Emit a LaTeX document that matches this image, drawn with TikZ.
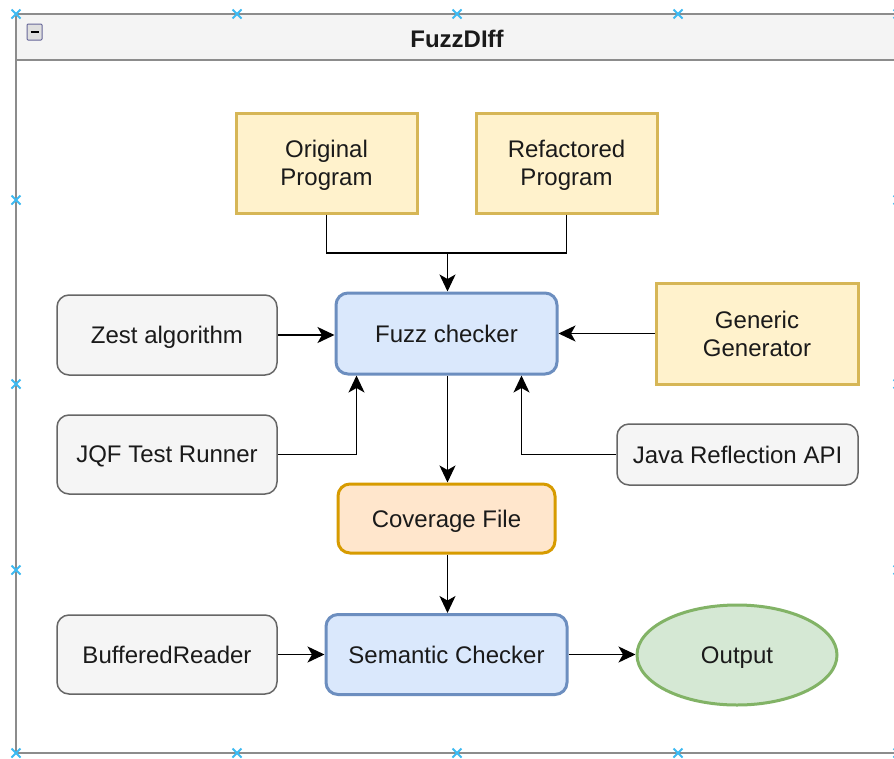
\documentclass[tikz,border=0pt]{standalone}
\usepackage{fontspec}
\setmainfont{Liberation Sans}
\usetikzlibrary{arrows.meta,shapes.geometric}

\definecolor{yelfill}{HTML}{FFF2CC}
\definecolor{yeldraw}{HTML}{D6B656}
\definecolor{blufill}{HTML}{DAE8FC}
\definecolor{bludraw}{HTML}{6C8EBF}
\definecolor{grafill}{HTML}{F5F5F5}
\definecolor{gradraw}{HTML}{666666}
\definecolor{orafill}{HTML}{FFE6CC}
\definecolor{oradraw}{HTML}{D79B00}
\definecolor{grnfill}{HTML}{D5E8D4}
\definecolor{grndraw}{HTML}{82B366}
\definecolor{frameline}{HTML}{8C8C8C}
\definecolor{headfill}{HTML}{F4F4F4}
\definecolor{handle}{HTML}{3DBAF2}
\definecolor{txt}{HTML}{1A1A1A}

\tikzset{
  box/.style={rectangle, inner sep=0pt, align=center, text=txt, text depth=0pt,
    font=\fontsize{24}{28}\selectfont},
  yelbox/.style={box, fill=yelfill, draw=yeldraw, line width=3pt},
  blubox/.style={box, fill=blufill, draw=bludraw, line width=3pt, rounded corners=12pt},
  grabox/.style={box, fill=grafill, draw=gradraw, line width=1.5pt, rounded corners=12pt},
  orabox/.style={box, fill=orafill, draw=oradraw, line width=3pt, rounded corners=12pt},
  grnell/.style={box, ellipse, fill=grnfill, draw=grndraw, line width=3pt},
  conn/.style={draw=black, line width=1.6pt},
  arr/.style={conn, -{Stealth[length=17pt,width=16pt,inset=4.5pt]}},
  handlemark/.style={draw=handle, line width=2pt},
}

\begin{document}
\begin{tikzpicture}[x=1pt,y=-1pt]
  % page area
  \clip (0,0) rectangle (894,758);
  \fill[white] (0,0) rectangle (894,758);

  % container frame with header
  \fill[headfill] (16,14) rectangle (898,60);
  \draw[frameline, line width=1.5pt] (16,753) -- (16,14) -- (898,14);
  \draw[frameline, line width=1.5pt] (16,60) -- (898,60);
  \draw[frameline, line width=1.5pt] (16,753) -- (898,753);
  \node[box, font=\fontsize{24}{28}\selectfont\bfseries] (title) at (457,39) {FuzzDIff};

  % collapse toggle
  \draw[draw=gray!80!blue, fill=gray!25, line width=1pt, rounded corners=1pt]
    (27,24) rectangle (42,40);
  \draw[black, line width=2pt] (30.5,32) -- (38.5,32);

  % nodes
  \node[yelbox, minimum width=181pt, minimum height=100pt] (orig) at (326.5,163) {Original\\Program};
  \node[yelbox, minimum width=181pt, minimum height=100pt] (refac) at (566.5,163) {Refactored\\Program};
  \node[blubox, minimum width=221pt, minimum height=81pt] (fuzz) at (446.5,333.5) {Fuzz checker};
  \node[grabox, minimum width=220pt, minimum height=80pt] (zest) at (167,335) {Zest algorithm};
  \node[yelbox, minimum width=202pt, minimum height=101pt] (gen) at (757,333.5) {Generic\\Generator};
  \node[grabox, minimum width=220pt, minimum height=79pt] (jqf) at (167,454.5) {JQF Test Runner};
  \node[grabox, minimum width=241pt, minimum height=61pt] (java) at (737.5,454.5) {Java Reflection API};
  \node[orabox, minimum width=217pt, minimum height=69pt] (cov) at (446.5,518.5) {Coverage File};
  \node[grabox, minimum width=220pt, minimum height=79pt] (buf) at (167,654.5) {BufferedReader};
  \node[blubox, minimum width=241pt, minimum height=80pt] (sem) at (446.5,654.5) {Semantic Checker};
  \node[grnell, minimum width=200pt, minimum height=100pt] (out) at (737,655) {Output};

  % connectors
  \coordinate (join) at (447.5,253);
  \draw[conn] (orig.south) |- (join);
  \draw[conn] (refac.south) |- (join);
  \draw[arr] (join) -- (join |- fuzz.north);
  \draw[arr] (zest.east) -- (zest.east -| fuzz.west);
  \draw[arr] (gen.west) -- (gen.west -| fuzz.east);
  \draw[arr] (jqf.east) -| ([xshift=22pt]fuzz.south west);
  \draw[arr] (java.west) -| ([xshift=-37pt]fuzz.south east);
  \draw[arr] ([xshift=1pt]fuzz.south) -- ([xshift=1pt]cov.north);
  \draw[arr] ([xshift=1pt]cov.south) -- ([xshift=1pt]sem.north);
  \draw[arr] (buf.east) -- (buf.east -| sem.west);
  \draw[arr] (sem.east) -- (sem.east -| out.west);

  % selection handles
  \foreach \hx/\hy in {16/14, 237/14, 457/14, 678/14, 898/14,
                       16/200, 898/200, 16/384, 898/384, 16/570, 898/570,
                       16/753, 237/753, 457/753, 678/753, 898/753} {
    \draw[handlemark] (\hx-4.5,\hy-4.5) -- (\hx+4.5,\hy+4.5);
    \draw[handlemark] (\hx-4.5,\hy+4.5) -- (\hx+4.5,\hy-4.5);
  }
\end{tikzpicture}
\end{document}
